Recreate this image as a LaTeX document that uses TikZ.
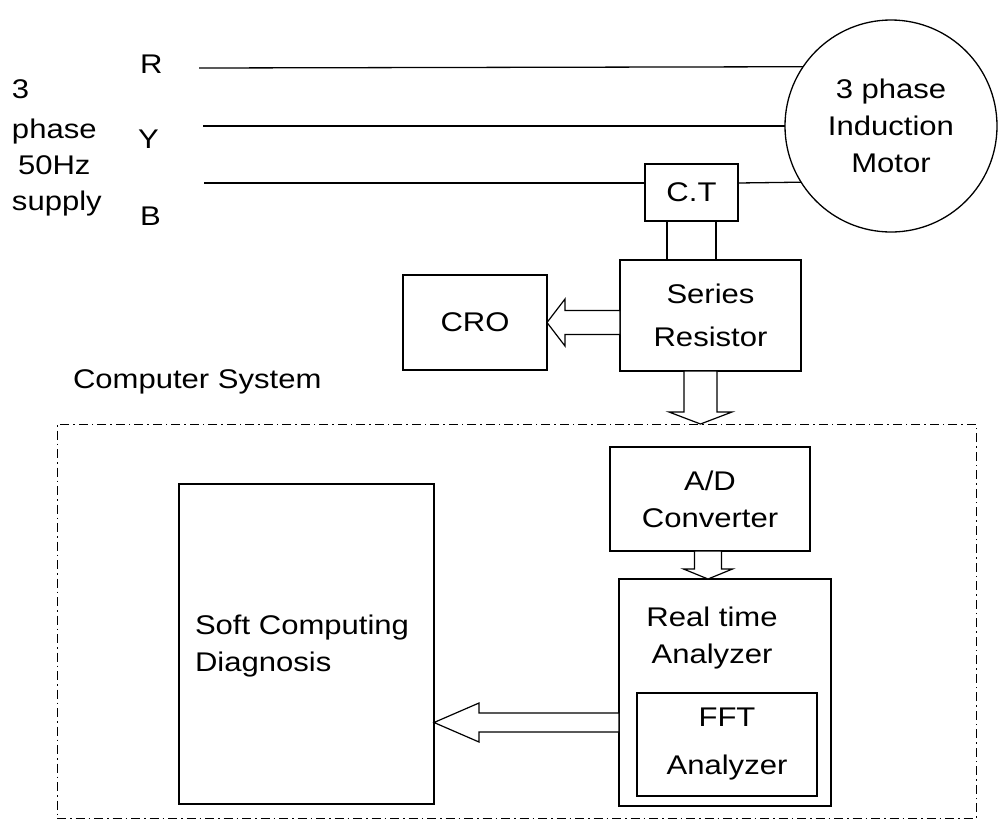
\documentclass[tikz,border=0pt]{standalone}
\usepackage{fontspec}
\setmainfont{Liberation Sans}[FakeStretch=1.15]
\usetikzlibrary{calc}
\begin{document}
\begin{tikzpicture}[x=1pt,y=-1pt,
  every node/.style={font=\fontsize{27}{37}\selectfont, inner sep=0pt, outer sep=0pt},
  box/.style={draw, line width=1.4pt, align=center},
  wire/.style={line width=1.3pt},
  hollow/.style={draw, line width=1.2pt, fill=white, line join=miter},
  frame/.style={draw, line width=1pt, dash pattern=on 9pt off 4pt on 1.5pt off 4pt}]
\useasboundingbox (0,0) rectangle (999,823);

% computer system frame
\node[frame, minimum width=919pt, minimum height=394pt] (CS) at (516.5,621) {};
\node[anchor=west] (lbl) at (73,382) {Computer System};

% supply text
\node[anchor=base west] (t3) at (12,98) {3};
\node[anchor=base west] (tphase) at (12,138) {phase};
\node[anchor=base west] (t50) at (18,174) {50Hz};
\node[anchor=base west] (tsup) at (12,210) {supply};
\node[anchor=base west] (lR) at (140,73) {R};
\node[anchor=base west] (lY) at (138,148) {Y};
\node[anchor=base west] (lB) at (140,225) {B};

% motor
\node[circle, draw, line width=1.3pt, minimum size=212pt, align=center] (M) at (891,126) {3 phase\\Induction\\Motor};

% boxes
\node[box, minimum width=93pt, minimum height=57pt] (CT) at (691.5,192.5) {C.T};
\node[box, minimum width=181pt, minimum height=111pt] (SR) at (710.5,315.5) {Series\\[6pt]Resistor};
\node[box, minimum width=144pt, minimum height=95pt] (CRO) at (475,322.5) {CRO};
\node[box, minimum width=200pt, minimum height=104pt] (AD) at (710,499) {A/D\\Converter};
\node[box, minimum width=212pt, minimum height=227pt] (RT) at (725,692.5) {};
\node[align=center] (rtt) at (712,638) {Real time\\Analyzer};
\node[box, minimum width=180pt, minimum height=103pt] (FFT) at (727,744.5) {FFT\\[11pt]Analyzer};
\node[box, minimum width=255pt, minimum height=320pt] (SD) at (306.5,644) {};
\node[anchor=west, align=left] (sdt) at (195,646) {Soft Computing\\Diagnosis};

% phase lines
\coordinate (Rs) at (199,68);
\coordinate (Ys) at (203,126);
\coordinate (Bs) at (204,183);
\draw[wire] (Rs) -- (M.146.8);
\draw[wire] (Ys) -- (M.west);
\draw[wire] (Bs) -- (Bs -| CT.west);
\draw[wire] (Bs -| CT.east) -- (M.212.5);

% CT to series resistor
\coordinate (ct1) at ($(CT.south)+(-24.5,0)$);
\coordinate (ct2) at ($(CT.south)+(24.5,0)$);
\draw[wire] (ct1) -- (ct1 |- SR.north);
\draw[wire] (ct2) -- (ct2 |- SR.north);

% SR -> CRO
\draw[hollow] (CRO.east) -- ++(18,-23.5) -- ++(0,11.5)
  -- ($(CRO.east -| SR.west)+(0,-12)$) -- ($(CRO.east -| SR.west)+(0,12)$)
  -- ($(CRO.east)+(18,12)$) -- ++(0,11.5) -- cycle;

% SR -> computer system
\coordinate (d0) at ($(SR.south)+(-10,0)$);
\draw[hollow] (d0 |- CS.north) -- ++(-31.5,-12) -- ++(15,0)
  -- ($(d0)+(-16.5,0)$) -- ($(d0)+(16.5,0)$)
  -- ($(d0 |- CS.north)+(16.5,-12)$) -- ++(15,0) -- cycle;

% AD -> RT
\coordinate (e0) at ($(AD.south)+(-2,0)$);
\draw[hollow] (e0 |- RT.north) -- ++(-24.5,-10) -- ++(11,0)
  -- ($(e0)+(-13.5,0)$) -- ($(e0)+(13.5,0)$)
  -- ($(e0 |- RT.north)+(13.5,-10)$) -- ++(11,0) -- cycle;

% RT -> SD
\coordinate (f0) at ($(RT.west)+(0,30)$);
\draw[hollow] (f0 -| SD.east) -- ++(45,-19.5) -- ++(0,10)
  -- ($(f0)+(0,-9.5)$) -- ($(f0)+(0,9.5)$)
  -- ($(f0 -| SD.east)+(45,9.5)$) -- ++(0,10) -- cycle;
\end{tikzpicture}
\end{document}
